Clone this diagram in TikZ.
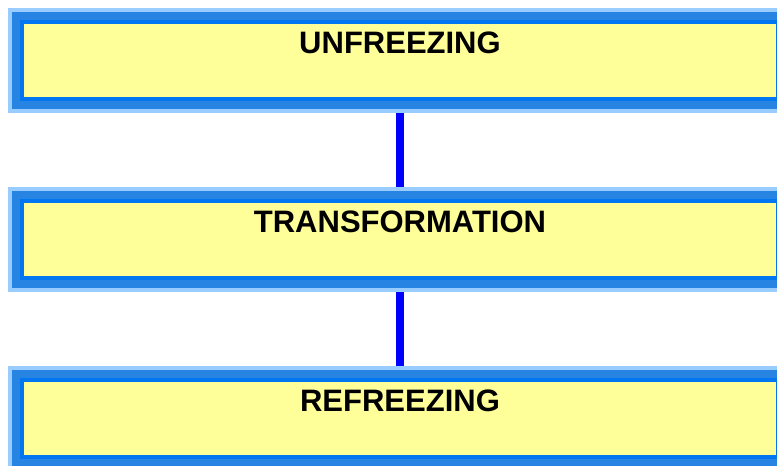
\documentclass[tikz,border=0pt]{standalone}
\usepackage{fontspec}
\setmainfont{Liberation Sans}
\definecolor{lightb}{RGB}{153,204,255}
\definecolor{midb}{RGB}{40,132,226}
\definecolor{brightb}{RGB}{0,119,240}
\definecolor{yel}{RGB}{255,255,153}
\definecolor{connb}{RGB}{0,0,255}
\tikzset{
  stagebox/.style={rectangle, inner sep=0pt, outer sep=0pt,
    text width=756pt, align=center, text height=31pt, text depth=46pt,
    font=\fontsize{31}{31}\selectfont\bfseries,
    fill=yel, draw=brightb, line width=4pt,
    preaction={draw=lightb, line width=28pt},
    preaction={draw=midb, line width=20pt}},
  linkline/.style={draw=connb, line width=8pt, shorten <=14pt, shorten >=14pt}
}
\begin{document}
\begin{tikzpicture}[x=1pt,y=-1pt]
\useasboundingbox[fill=white] (0,0) rectangle (777,466);
\node[stagebox] (b1) at (400,60.5) {UNFREEZING};
\node[stagebox] (b2) at (400,239.5) {TRANSFORMATION};
\node[stagebox] (b3) at (400,418.5) {REFREEZING};
\draw[linkline] (b1.south) -- (b2.north);
\draw[linkline] (b2.south) -- (b3.north);
\end{tikzpicture}
\end{document}
